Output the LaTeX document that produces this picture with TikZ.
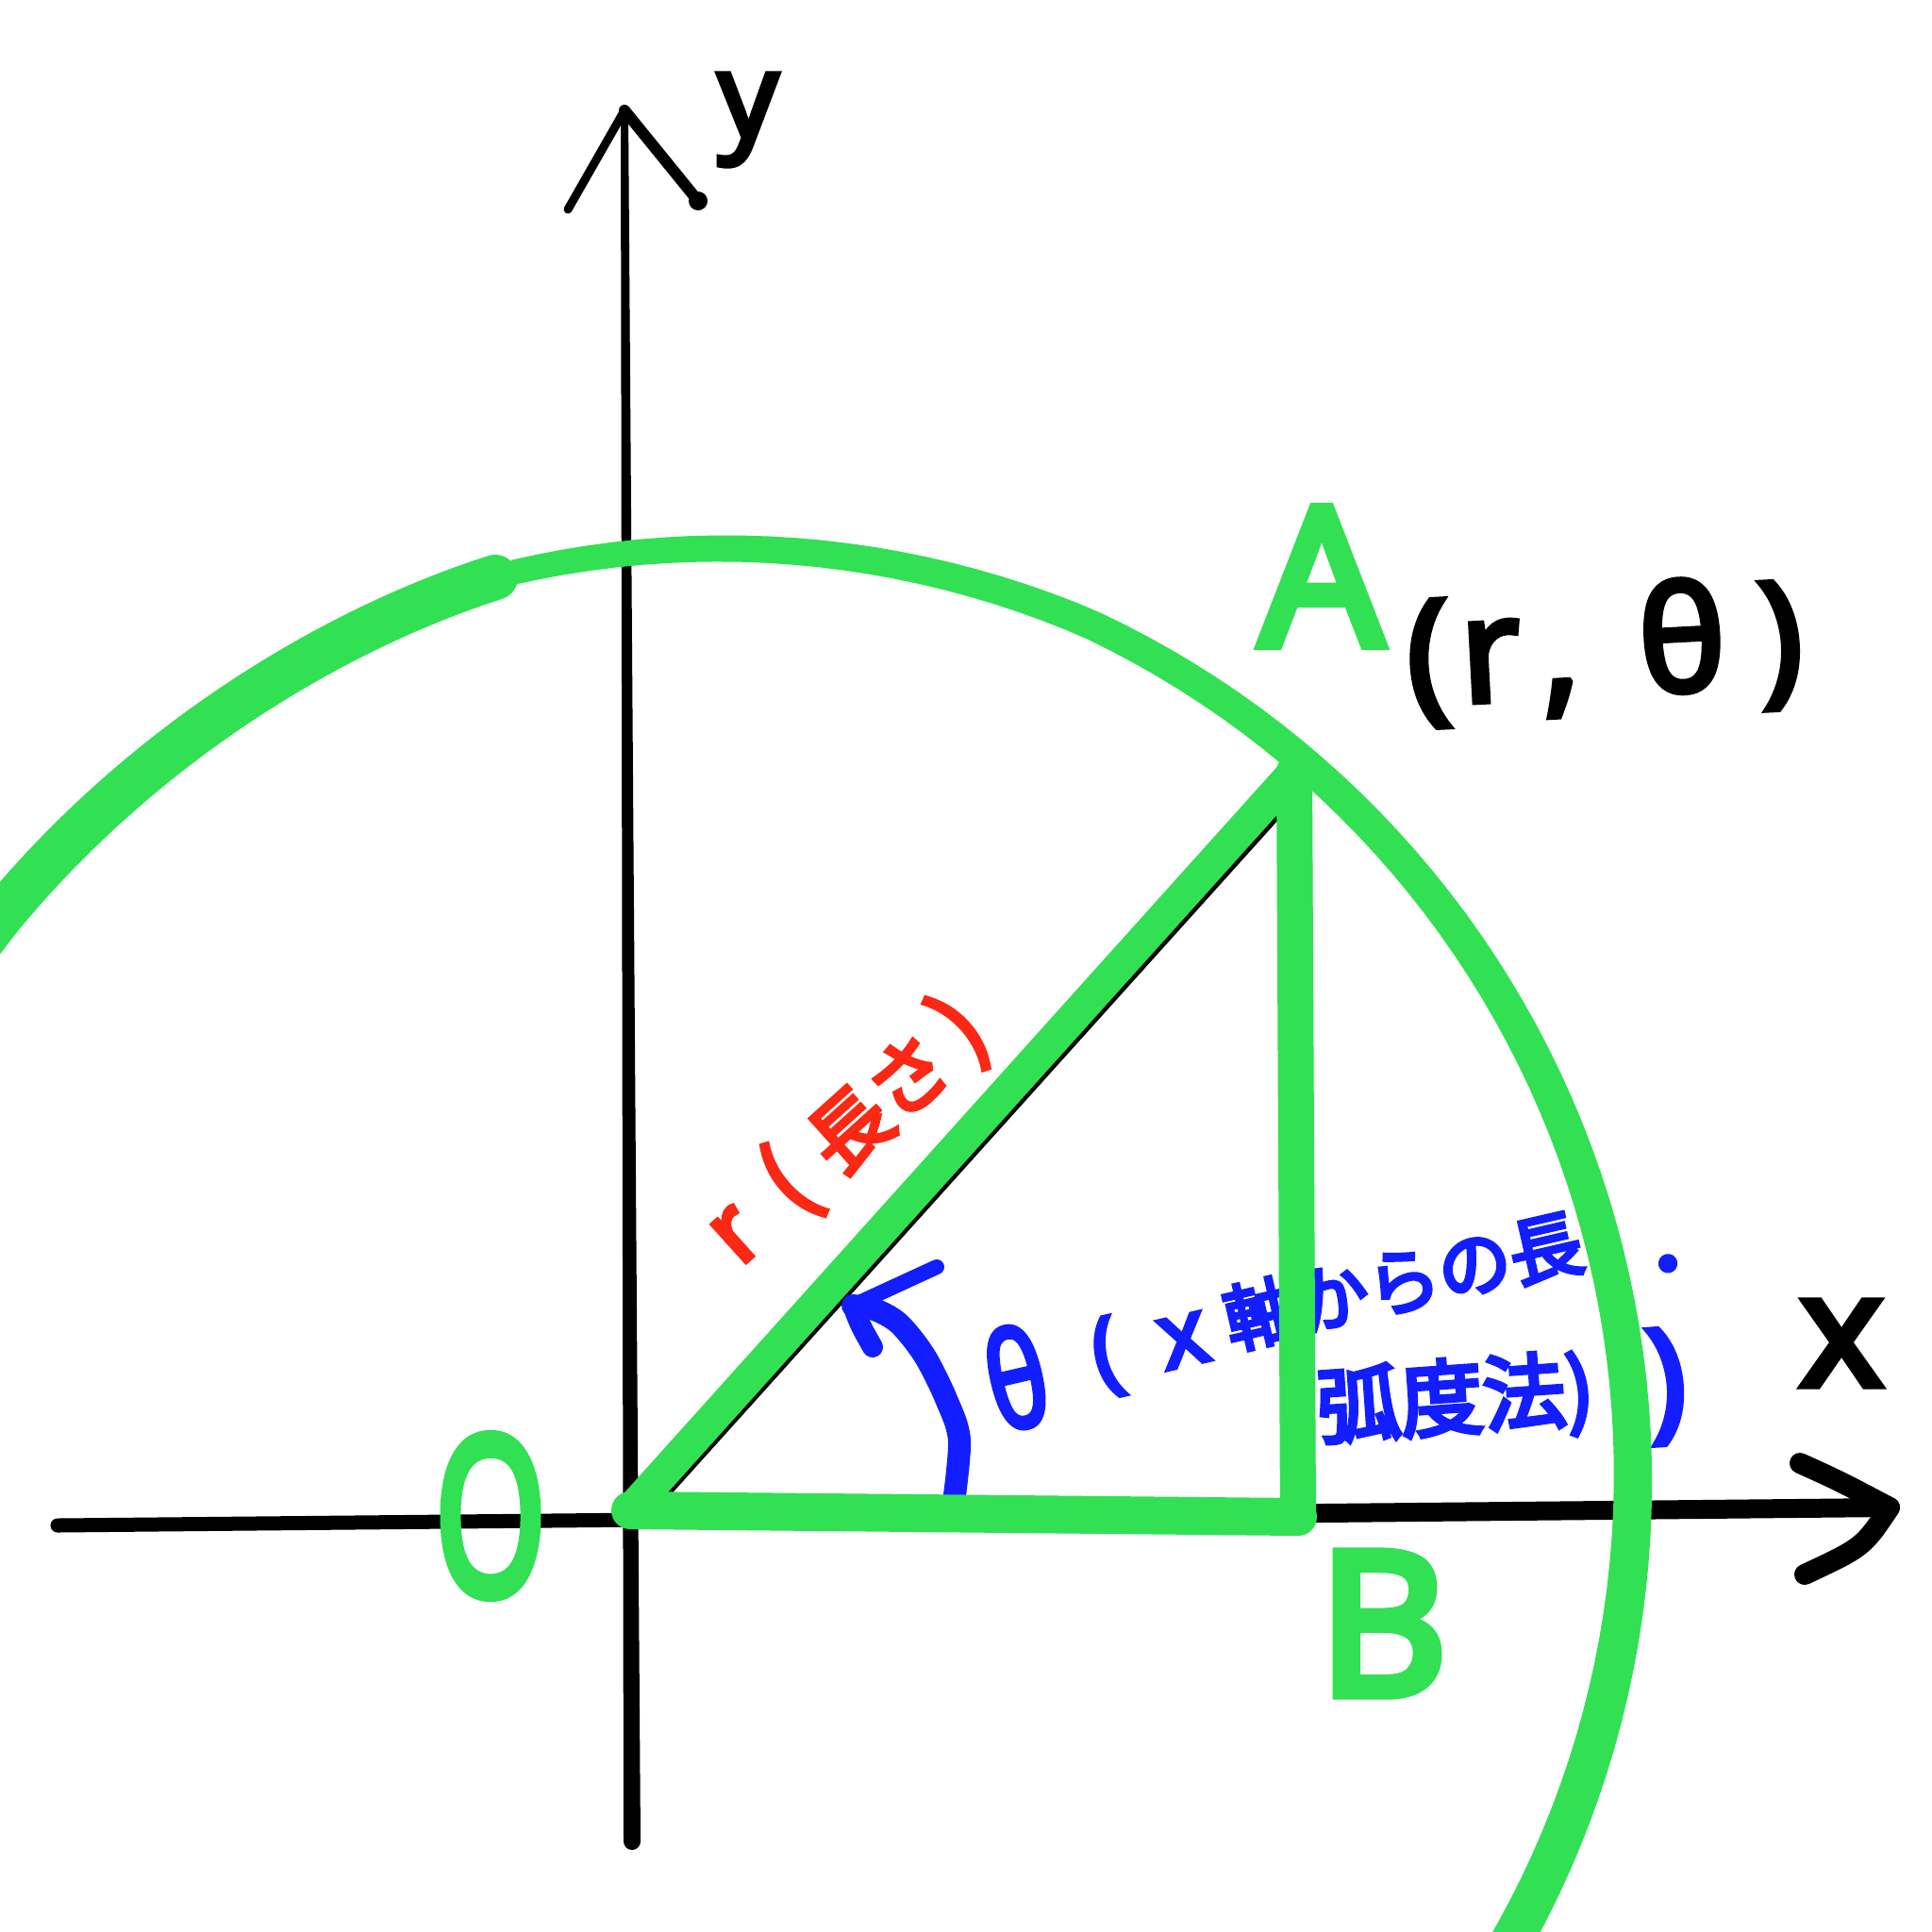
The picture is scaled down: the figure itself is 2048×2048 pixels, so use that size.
\documentclass[tikz,border=0pt]{standalone}
\usepackage{fontspec}
\usepackage{graphicx}
\setmainfont{Noto Sans}
\newfontfamily\markerfont{Noto Sans}[FakeBold=4]
\newfontfamily\heavyfont{Noto Sans}[FakeBold=5]
\newfontfamily\jpfont{Noto Sans CJK JP}[FakeBold=5]
\definecolor{penGreen}{RGB}{50,224,84}
\definecolor{penRed}{RGB}{250,40,20}
\definecolor{penBlue}{RGB}{18,30,255}

\begin{document}
\begin{tikzpicture}[
  x=0.01cm, y=-0.01cm,
  declare function={rr(\t)=1000-0.6*max(\t-65,0); hw(\t)=23-10*(\t+40)/142;},
  axisline/.style={draw=black, line width=1.3mm, line cap=round, line join=round},
  axisbarb/.style={axisline, line width=2.2mm},
  triedge/.style={draw=penGreen, line width=3.4mm, line cap=round, line join=round},
  angarc/.style={draw=penBlue, line width=2.4mm, line cap=round, line join=round},
  glabel/.style={text=penGreen, inner sep=0pt},
  klabel/.style={text=black, inner sep=0pt}
]
\useasboundingbox (0,0) rectangle (2048,2048);
\clip (0,0) rectangle (2048,2048);
\fill[white] (0,0) rectangle (2048,2048);

\coordinate (O) at (668,1601);
\coordinate (A) at (1372,818);
\coordinate (B) at (1376,1608);
\coordinate (ytop) at (662,117);
\coordinate (ybot) at (670,1952);
\coordinate (ybarbL) at (602,222);
\coordinate (ybarbR) at (740,213);
\coordinate (xleft) at (61,1617);
\coordinate (xmid) at (1000,1608);
\coordinate (xtip) at (2003,1598);
\coordinate (xbarbU) at (1908,1551);
\coordinate (xbarbD) at (1913,1669);
\coordinate (Oblk) at (682,1613);
\coordinate (Ablk) at (1386,831);
\coordinate (arcS) at (1010,1600);
\coordinate (arcT) at (904,1384);
\coordinate (arcU) at (993,1343);
\coordinate (arcD) at (925,1428);

% axes
\fill[black] (658,117) -- (666,117) -- (679,1952) -- (661,1952) -- cycle;
\fill[black] (ytop) circle (4) (ybot) circle (9);
\draw[axisline, line width=0.9mm] (ybarbL) -- (ytop);
\draw[axisline, line width=1.2mm] (ytop) -- (ybarbR);
\fill[black] (ybarbR) circle (10);
\draw[axisline, line width=1.5mm] (xleft) -- (xmid);
\draw[axisline, line width=2mm] (xmid) -- (xtip);
\draw[axisbarb] (xbarbU) .. controls (1950,1570) .. (xtip);
\draw[axisbarb] (xtip) .. controls (1975,1640) .. (xbarbD);
\draw[black, line width=0.5mm] (Oblk) -- (Ablk);

% labels under the green strokes
\node[text=penRed, font=\jpfont\fontsize{28pt}{28pt}\selectfont, rotate=42, inner sep=0pt] (labr) at (898,1200)
  {r\hspace{12pt}(\hspace{8pt}{\fontsize{24pt}{24pt}\selectfont 長さ}\hspace{5pt})};
\node[text=penBlue, anchor=base west, rotate=13, inner sep=0pt] (labtheta) at (1058,1519)
  {{\markerfont\fontsize{40pt}{40pt}\selectfont\scalebox{0.75}[1]{θ}}\hspace{15pt}\raisebox{7pt}{{\markerfont\fontsize{28pt}{28pt}\selectfont(}\hspace{12pt}{\markerfont\fontsize{28pt}{28pt}\selectfont x}\hspace{6pt}\raisebox{2pt}{\jpfont\fontsize{22pt}{22pt}\selectfont 軸からの長\hspace{13pt}\raisebox{-13pt}{・}}}};
\node[text=penBlue, anchor=base west, rotate=4, inner sep=0pt] (labrad) at (1398,1524)
  {{\jpfont\fontsize{25pt}{25pt}\selectfont 弧度法)}\hspace{16pt}\raisebox{-3pt}{\markerfont\fontsize{40pt}{40pt}\selectfont )}};
\draw[angarc] plot[smooth] coordinates {(arcS) (1017,1527) (1003,1483) (980,1437) (953,1403) (927,1388) (arcT)};
\draw[angarc, line width=1.6mm] (arcT) -- (arcU);
\draw[angarc, line width=2.2mm] (arcT) .. controls (912,1405) .. (arcD);

% triangle and circle
\draw[triedge] (O) -- (A);
\draw[triedge, line width=3.8mm] (A) -- (B);
\draw[triedge, line width=4mm] (O) -- (B);
\draw[penGreen, line width=4.8mm, line cap=round] (-60,1050) -- (0,972) .. controls (150,790) and (350,668) .. (525,612);
\fill[penGreen] plot[domain=-40:101, samples=90] ({731+(rr(\x)+hw(\x))*cos(\x)}, {1567-(rr(\x)+hw(\x))*sin(\x)})
  -- plot[domain=101:-40, samples=90] ({731+(rr(\x)-hw(\x))*cos(\x)}, {1567-(rr(\x)-hw(\x))*sin(\x)}) -- cycle;

% point labels
\node[glabel, font=\heavyfont\fontsize{58pt}{58pt}\selectfont] (labA) at (1401,611) {A};
\node[glabel, font=\heavyfont\fontsize{60pt}{60pt}\selectfont] (labB) at (1466,1721) {B};
\node[glabel, font=\heavyfont\fontsize{66pt}{66pt}\selectfont, xscale=0.65] (labO) at (520,1607) {O};
\node[klabel, font=\markerfont\fontsize{36pt}{36pt}\selectfont] (laby) at (793,127) {y};
\node[klabel, font=\markerfont\fontsize{48pt}{48pt}\selectfont] (labx) at (1952,1424) {x};
\node[klabel, font=\markerfont\fontsize{44pt}{44pt}\selectfont, rotate=3] (labpolar) at (1701,690)
  {(\hspace{3pt}r\hspace{6pt},\hspace{18pt}θ\hspace{10pt})};
\end{tikzpicture}
\end{document}
